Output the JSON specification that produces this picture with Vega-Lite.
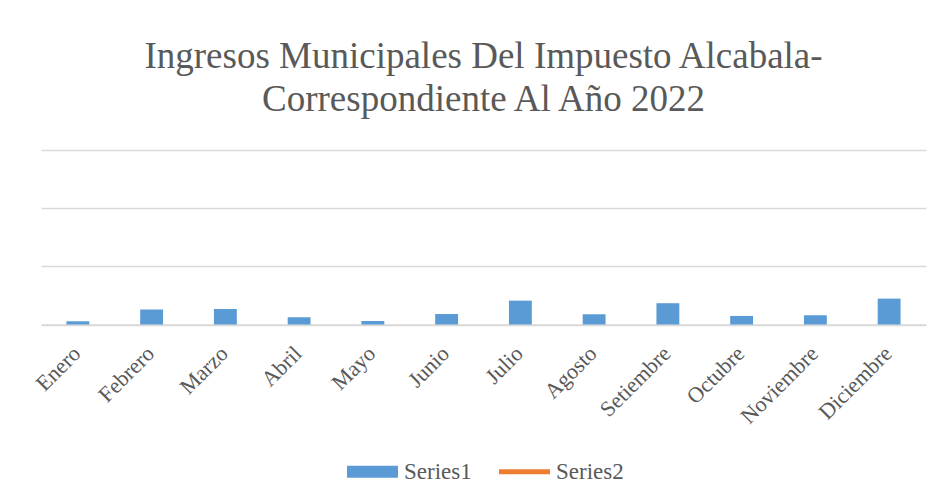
{
  "$schema": "https://vega.github.io/schema/vega-lite/v6.json",
  "autosize": "none",
  "width": 885,
  "height": 174.5,
  "padding": {"left": 41, "top": 150, "right": 19, "bottom": 179.5},
  "background": "white",
  "title": {
    "text": ["Ingresos Municipales Del Impuesto Alcabala-", "Correspondiente Al Año 2022"],
    "font": "Liberation Serif",
    "fontSize": 37,
    "fontWeight": "normal",
    "color": "#595959",
    "lineHeight": 43,
    "anchor": "middle",
    "offset": 31
  },
  "data": {
    "values": [
      {"mes": "Enero", "serie": "Series1", "valor": 5500},
      {"mes": "Febrero", "serie": "Series1", "valor": 26000},
      {"mes": "Marzo", "serie": "Series1", "valor": 26700},
      {"mes": "Abril", "serie": "Series1", "valor": 12400},
      {"mes": "Mayo", "serie": "Series1", "valor": 6000},
      {"mes": "Junio", "serie": "Series1", "valor": 18000},
      {"mes": "Julio", "serie": "Series1", "valor": 41000},
      {"mes": "Agosto", "serie": "Series1", "valor": 17600},
      {"mes": "Setiembre", "serie": "Series1", "valor": 36600},
      {"mes": "Octubre", "serie": "Series1", "valor": 14700},
      {"mes": "Noviembre", "serie": "Series1", "valor": 15900},
      {"mes": "Diciembre", "serie": "Series1", "valor": 44500}
    ]
  },
  "mark": {"type": "bar", "clip": false},
  "encoding": {
    "x": {
      "field": "mes",
      "type": "nominal",
      "sort": null,
      "scale": {"paddingInner": 0.69, "paddingOuter": 0.345},
      "axis": {
        "title": null,
        "labelAngle": -45,
        "labelFont": "Liberation Serif",
        "labelFontSize": 22,
        "labelColor": "#595959",
        "labelPadding": 18,
        "labelOffset": -8,
        "ticks": false,
        "domain": true,
        "domainColor": "#d9d9d9",
        "domainWidth": 1.5,
        "grid": false
      }
    },
    "y": {
      "field": "valor",
      "type": "quantitative",
      "scale": {"domain": [0, 300000], "nice": false},
      "axis": {
        "title": null,
        "labels": false,
        "ticks": false,
        "domain": false,
        "grid": true,
        "gridColor": "#d9d9d9",
        "gridWidth": 1.5,
        "values": [0, 100000, 200000, 300000]
      }
    },
    "color": {
      "field": "serie",
      "type": "nominal",
      "scale": {"domain": ["Series1", "Series2"], "range": ["#5B9BD5", "#ED7D31"]},
      "legend": {
        "title": null,
        "orient": "none",
        "direction": "horizontal",
        "legendX": 306,
        "legendY": 296,
        "symbolSize": 2601,
        "symbolStrokeWidth": 0,
        "symbolOpacity": 1,
        "labelFont": "Liberation Serif",
        "labelFontSize": 23,
        "labelColor": "#595959",
        "labelOffset": 6,
        "columnPadding": 27,
        "encode": {
          "symbols": {
            "update": {
              "shape": {"signal": "datum.value === 'Series1' ? 'M-1,-0.235H1V0.235H-1Z' : 'M-1,-0.1H1V0.1H-1Z'"},
              "fill": {"signal": "datum.value === 'Series1' ? '#5B9BD5' : '#ED7D31'"}
            }
          }
        }
      }
    }
  },
  "config": {
    "view": {"stroke": null}
  }
}
